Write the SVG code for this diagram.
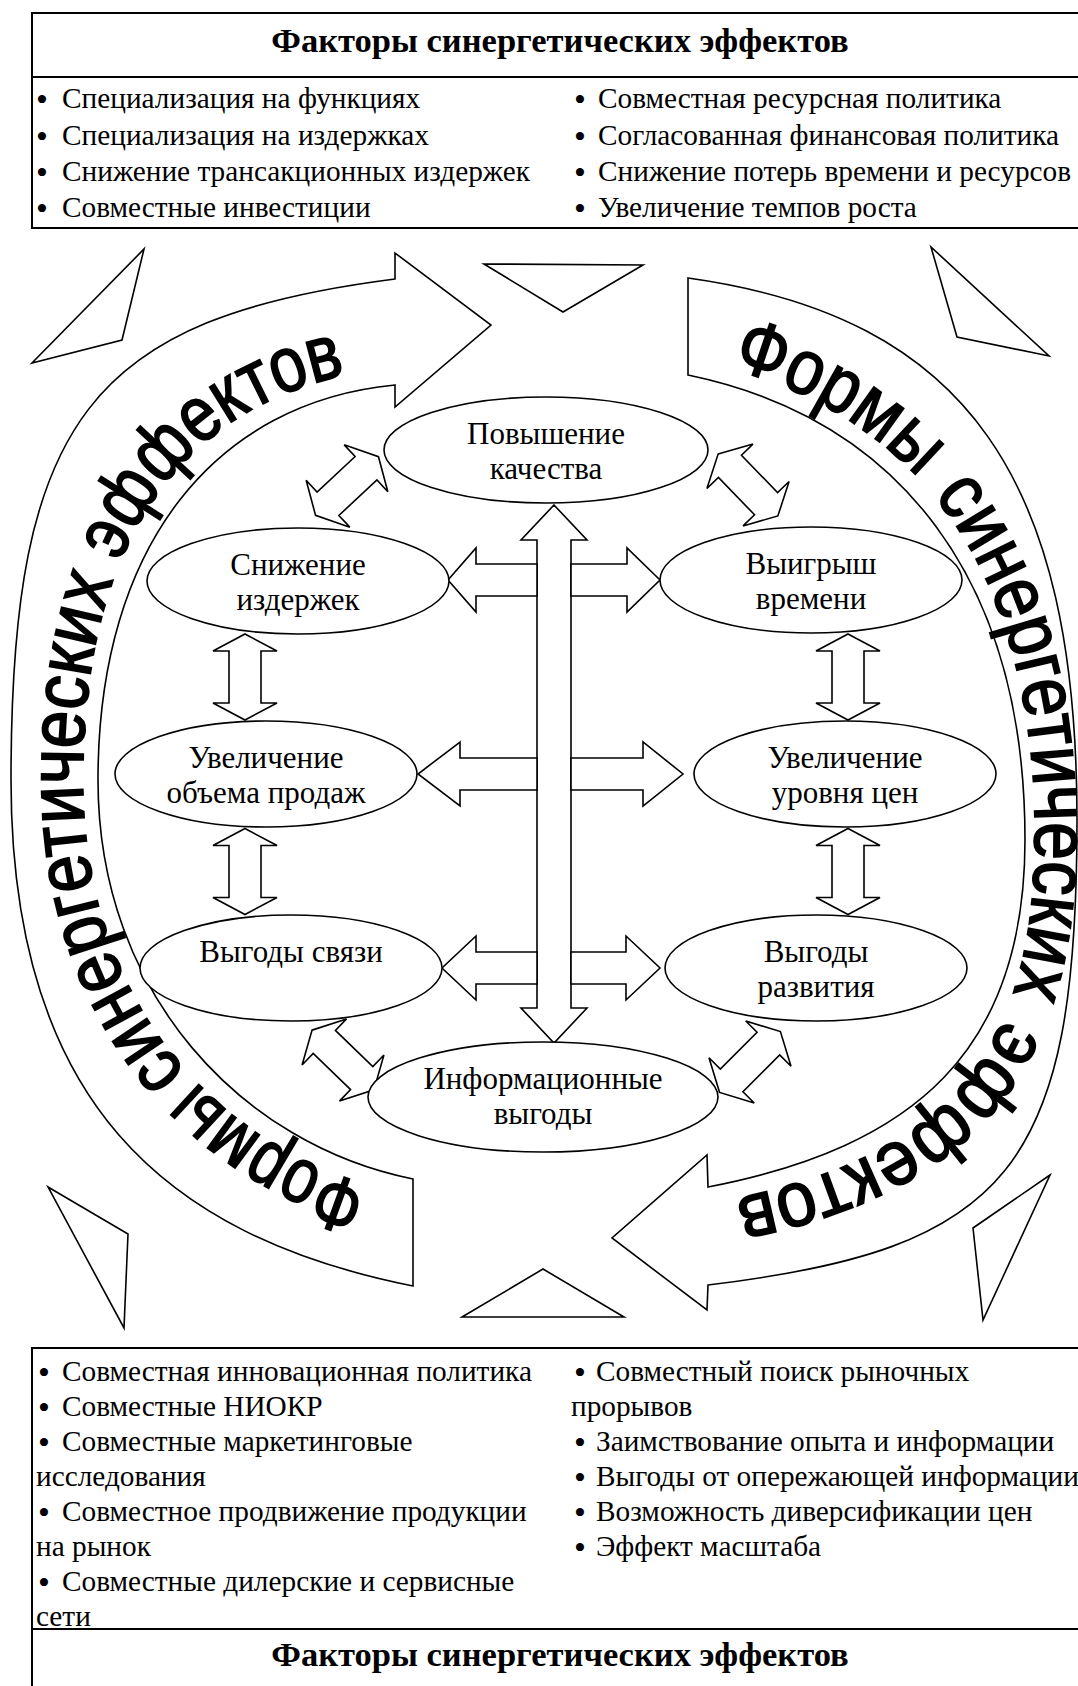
<svg xmlns="http://www.w3.org/2000/svg" xmlns:xlink="http://www.w3.org/1999/xlink" width="1078" height="1686" viewBox="0 0 1078 1686">
<style>
.ln{fill:#fff;stroke:#000;stroke-width:1.6;stroke-linejoin:miter}
.box{fill:none;stroke:#000;stroke-width:2}
.t{font-family:"Liberation Serif","Times New Roman",serif;font-size:29.3px;fill:#000}
.b{font-family:"Liberation Serif","Times New Roman",serif;font-size:34px;fill:#000}
.n{font-family:"Liberation Serif","Times New Roman",serif;font-size:31px;fill:#000;text-anchor:middle}
.hd{font-family:"Liberation Serif","Times New Roman",serif;font-size:34.5px;font-weight:bold;text-anchor:middle;fill:#000}
.band{font-family:"Liberation Sans",Arial,sans-serif;font-size:78px;fill:#000;stroke:#000;stroke-width:1.8}
</style>
<defs>
<path id="dbl" d="M -43,0 L -26,-32 L -26,-16 L 26,-16 L 26,-32 L 43,0 L 26,32 L 26,16 L -26,16 L -26,32 Z"/>
<path id="bl" d="M 413,1197 C 229,1161 83,1013 83,780 C 83,523 196,388 395,367"/>
<path id="br" d="M 688,358 C 912,402 1035,563 1035,835 C 1035,1070 931,1164 708,1204"/>
</defs>
<rect width="1078" height="1686" fill="#fff"/>

<g id="top-box">
<rect class="box" x="32" y="13" width="1060" height="215"/>
<line class="box" x1="32" y1="77" x2="1092" y2="77"/>
<text class="hd" x="560" y="52">Факторы синергетических эффектов</text>
<text class="b" x="36" y="111">•</text><text class="t" x="62" y="108">Специализация на функциях</text>
<text class="b" x="36" y="147.5">•</text><text class="t" x="62" y="144.5">Специализация на издержках</text>
<text class="b" x="36" y="184">•</text><text class="t" x="62" y="181">Снижение трансакционных издержек</text>
<text class="b" x="36" y="220">•</text><text class="t" x="62" y="217">Совместные инвестиции</text>
<text class="b" x="574" y="111">•</text><text class="t" x="598" y="108">Совместная ресурсная политика</text>
<text class="b" x="574" y="147.5">•</text><text class="t" x="598" y="144.5">Согласованная финансовая политика</text>
<text class="b" x="574" y="184">•</text><text class="t" x="598" y="181">Снижение потерь времени и ресурсов</text>
<text class="b" x="574" y="220">•</text><text class="t" x="598" y="217">Увеличение темпов роста</text>
</g>

<g id="band-left">
<path class="ln" d="M 413,1286 C 163,1236 11,1100 11,780 C 11,420 90,318 395,279 L 395,253 L 491,325 L 395,407 L 395,385 C 217,402 98,543 98,780 C 98,995 243,1145 413,1179 Z"/>
<text class="band"><textPath href="#bl" xlink:href="#bl" startOffset="45" textLength="205" lengthAdjust="spacingAndGlyphs">Формы</textPath></text>
<text class="band"><textPath href="#bl" xlink:href="#bl" startOffset="263" textLength="520" lengthAdjust="spacingAndGlyphs">синергетических</textPath></text>
<text class="band"><textPath href="#bl" xlink:href="#bl" startOffset="802" textLength="306" lengthAdjust="spacingAndGlyphs">эффектов</textPath></text>
</g>
<g id="band-right">
<path class="ln" d="M 688,278 C 968,317 1077,480 1077,820 C 1077,1170 1008,1249 708,1285 L 707,1310 L 612,1238 L 707,1155 L 708,1187 C 915,1147 1025,1050 1025,840 C 1025,580 900,419 688,375 Z"/>
<text class="band"><textPath href="#br" xlink:href="#br" startOffset="44" textLength="220" lengthAdjust="spacingAndGlyphs">Формы</textPath></text>
<text class="band"><textPath href="#br" xlink:href="#br" startOffset="287" textLength="522" lengthAdjust="spacingAndGlyphs">синергетических</textPath></text>
<text class="band"><textPath href="#br" xlink:href="#br" startOffset="836" textLength="338" lengthAdjust="spacingAndGlyphs">эффектов</textPath></text>
</g>

<g id="triangles">
<polygon class="ln" points="144,249 122,340 32,363"/>
<polygon class="ln" points="931,247 957,337 1049,356"/>
<polygon class="ln" points="484,264 643,265 563,312"/>
<polygon class="ln" points="48,1187 128,1234 124,1328"/>
<polygon class="ln" points="1050,1175 973,1228 983,1320"/>
<polygon class="ln" points="543,1269 462,1317 624,1317"/>
</g>

<g id="connectors">
<path class="ln" d="M 554,505 L 587,540 L 571,540 L 571,1008 L 587,1008 L 554,1043 L 521,1008 L 537,1008 L 537,540 L 521,540 Z"/>
<path class="ln" d="M 537,564 L 476,564 L 476,548 L 448,580 L 476,612 L 476,596 L 537,596 Z"/>
<path class="ln" d="M 571,564 L 627,564 L 627,548 L 660,580 L 627,612 L 627,596 L 571,596 Z"/>
<path class="ln" d="M 537,758 L 460,758 L 460,742 L 418,774 L 460,806 L 460,790 L 537,790 Z"/>
<path class="ln" d="M 571,758 L 643,758 L 643,742 L 683,774 L 643,806 L 643,790 L 571,790 Z"/>
<path class="ln" d="M 537,952 L 476,952 L 476,936 L 442,968 L 476,1000 L 476,984 L 537,984 Z"/>
<path class="ln" d="M 571,952 L 626,952 L 626,936 L 660,968 L 626,1000 L 626,984 L 571,984 Z"/>
<use class="ln" href="#dbl" xlink:href="#dbl" transform="translate(245,677) rotate(90)"/>
<use class="ln" href="#dbl" xlink:href="#dbl" transform="translate(245,871.5) rotate(90)"/>
<use class="ln" href="#dbl" xlink:href="#dbl" transform="translate(848,677) rotate(90)"/>
<use class="ln" href="#dbl" xlink:href="#dbl" transform="translate(848,871.5) rotate(90)"/>
<use class="ln" href="#dbl" xlink:href="#dbl" transform="translate(347,486) rotate(-43)"/>
<use class="ln" href="#dbl" xlink:href="#dbl" transform="translate(748,485) rotate(46)"/>
<use class="ln" href="#dbl" xlink:href="#dbl" transform="translate(343,1060) rotate(44)"/>
<use class="ln" href="#dbl" xlink:href="#dbl" transform="translate(750,1062) rotate(-45)"/>
</g>

<g id="node-quality">
<ellipse class="ln" cx="546" cy="450" rx="162" ry="53"/>
<text class="n" x="546" y="444">Повышение</text><text class="n" x="546" y="479">качества</text>
</g>
<g id="node-costs">
<ellipse class="ln" cx="298" cy="581" rx="151" ry="53"/>
<text class="n" x="298" y="575">Снижение</text><text class="n" x="298" y="610">издержек</text>
</g>
<g id="node-time">
<ellipse class="ln" cx="811" cy="580" rx="151" ry="53"/>
<text class="n" x="811" y="574">Выигрыш</text><text class="n" x="811" y="609">времени</text>
</g>
<g id="node-volume">
<ellipse class="ln" cx="266" cy="774" rx="151" ry="53"/>
<text class="n" x="266" y="768">Увеличение</text><text class="n" x="266" y="803">объема продаж</text>
</g>
<g id="node-price">
<ellipse class="ln" cx="845" cy="774" rx="151" ry="53"/>
<text class="n" x="845" y="768">Увеличение</text><text class="n" x="845" y="803">уровня цен</text>
</g>
<g id="node-link">
<ellipse class="ln" cx="291" cy="968" rx="151" ry="53"/>
<text class="n" x="291" y="962">Выгоды связи</text>
</g>
<g id="node-dev">
<ellipse class="ln" cx="816" cy="968" rx="151" ry="53"/>
<text class="n" x="816" y="962">Выгоды</text><text class="n" x="816" y="997">развития</text>
</g>
<g id="node-info">
<ellipse class="ln" cx="543" cy="1097" rx="175" ry="55"/>
<text class="n" x="543" y="1089">Информационные</text><text class="n" x="543" y="1124">выгоды</text>
</g>

<g id="bottom-box">
<rect class="box" x="32" y="1348" width="1060" height="360"/>
<line class="box" x1="32" y1="1629" x2="1092" y2="1629"/>
<text class="b" x="38" y="1384">•</text><text class="t" x="62" y="1381">Совместная инновационная политика</text>
<text class="b" x="38" y="1419">•</text><text class="t" x="62" y="1416">Совместные НИОКР</text>
<text class="b" x="38" y="1454">•</text><text class="t" x="62" y="1451">Совместные маркетинговые</text>
<text class="t" x="36" y="1486">исследования</text>
<text class="b" x="38" y="1524">•</text><text class="t" x="62" y="1521">Совместное продвижение продукции</text>
<text class="t" x="36" y="1556">на рынок</text>
<text class="b" x="38" y="1594">•</text><text class="t" x="62" y="1591">Совместные дилерские и сервисные</text>
<text class="t" x="36" y="1626">сети</text>
<text class="b" x="574" y="1384">•</text><text class="t" x="596" y="1381">Совместный поиск рыночных</text>
<text class="t" x="571" y="1416">прорывов</text>
<text class="b" x="574" y="1454">•</text><text class="t" x="596" y="1451">Заимствование опыта и информации</text>
<text class="b" x="574" y="1489">•</text><text class="t" x="596" y="1486">Выгоды от опережающей информации</text>
<text class="b" x="574" y="1524">•</text><text class="t" x="596" y="1521">Возможность диверсификации цен</text>
<text class="b" x="574" y="1559">•</text><text class="t" x="596" y="1556">Эффект масштаба</text>
<text class="hd" x="560" y="1666">Факторы синергетических эффектов</text>
</g>
</svg>
